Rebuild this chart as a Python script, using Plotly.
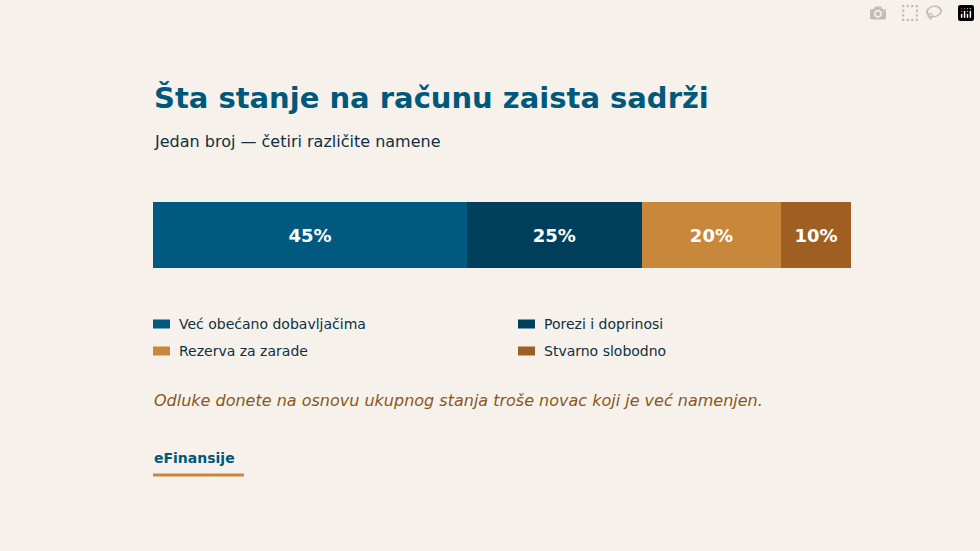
import plotly.graph_objects as go

W, H = 980, 551
categories = ["Već obećano dobavljačima", "Porezi i doprinosi", "Rezerva za zarade", "Stvarno slobodno"]
shares = [45, 25, 20, 10]
colors = ["#005a80", "#003f5c", "#c8873a", "#a05f22"]

def px_x(x):
    return x / W

def px_y(y):
    return 1 - y / H

fig = go.Figure()
for cat, val, col in zip(categories, shares, colors):
    fig.add_trace(go.Bar(
        x=[val], y=[0], orientation="h", name=cat, width=1,
        marker=dict(color=col, line=dict(width=0)),
        text=[f"<b>{val}%</b>"], textposition="inside", insidetextanchor="middle",
        textfont=dict(color="white", size=18, family="DejaVu Sans"),
        hoverinfo="skip",
    ))

ann = []
shapes = []
F = "DejaVu Sans"
ann.append(dict(text="<b>Šta stanje na računu zaista sadrži</b>", x=px_x(152), y=px_y(98),
                font=dict(size=29, color="#00587a", family=F)))
ann.append(dict(text="Jedan broj — četiri različite namene", x=px_x(152), y=px_y(141),
                font=dict(size=16, color="#0f2f42", family=F)))
leg_pos = [(153, 324), (518, 324), (153, 351), (518, 351)]
for (lx, ly), cat, col in zip(leg_pos, categories, colors):
    shapes.append(dict(type="rect", xref="paper", yref="paper", x0=px_x(lx), x1=px_x(lx + 17),
                       y0=px_y(ly + 4.5), y1=px_y(ly - 4.5), fillcolor=col, line=dict(width=0)))
    ann.append(dict(text=cat, x=px_x(lx + 24), y=px_y(ly),
                    font=dict(size=14, color="#0f2f42", family=F)))
ann.append(dict(text="<i>Odluke donete na osnovu ukupnog stanja troše novac koji je već namenjen.</i>",
                x=px_x(152), y=px_y(400), font=dict(size=16, color="#8a561c", family=F)))
ann.append(dict(text="<b>eFinansije</b>", x=px_x(152), y=px_y(458),
                font=dict(size=14, color="#00587a", family=F)))
shapes.append(dict(type="line", xref="paper", yref="paper", x0=px_x(153), x1=px_x(244),
                   y0=px_y(475), y1=px_y(475), line=dict(color="#c8873a", width=3)))
for a in ann:
    a.update(xref="paper", yref="paper", xanchor="left", yanchor="middle", showarrow=False)

fig.update_layout(
    width=W, height=H, barmode="stack", showlegend=False,
    paper_bgcolor="#f6f2eb", plot_bgcolor="#f6f2eb",
    margin=dict(l=0, r=0, t=0, b=0),
    xaxis=dict(domain=[px_x(153), px_x(851)], range=[0, 100], visible=False, fixedrange=True),
    yaxis=dict(domain=[px_y(268), px_y(202)], range=[-0.5, 0.5], visible=False, fixedrange=True),
    annotations=ann, shapes=shapes,
    font=dict(family=F),
)
# remove the default page margin so the figure sits flush in the window
fig.write_html("out.html", post_script="document.body.style.margin='0';document.body.style.background='#f6f2eb';")
